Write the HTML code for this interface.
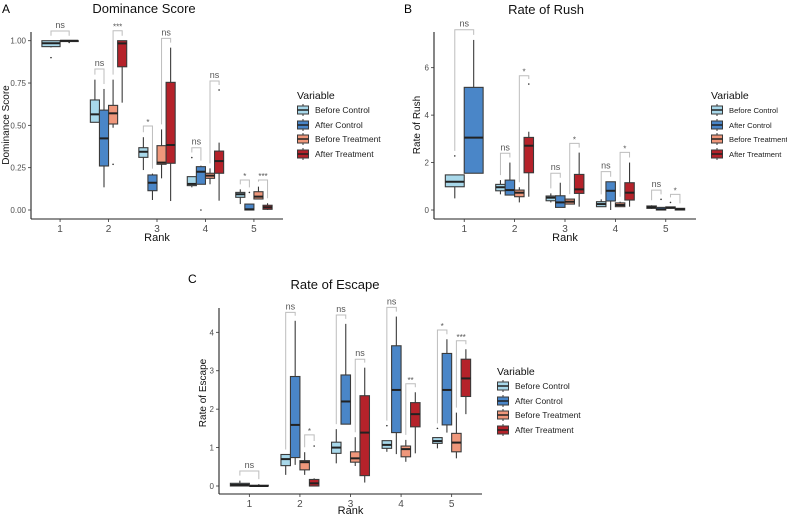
<!DOCTYPE html>
<html><head><meta charset="utf-8"><style>
html,body{margin:0;padding:0;background:#fff;}
svg{display:block;font-family:"Liberation Sans",Arial,sans-serif;}
</style></head><body>
<svg id="fig" width="787" height="516" viewBox="0 0 787 516"></svg>
<script>
// ---------- data ----------
const groupNames = ['Before Control','After Control','Before Treatment','After Treatment'];
const groupColors = ['#a8d8ea','#4a86c8','#ef977b','#b5222a'];
const ranks = [1,2,3,4,5];

// Dominance Score: [lowWhisker, q1, median, q3, highWhisker] per rank
const domBeforeControl = [[0.96,0.965,0.985,1.0,1.0],[0.518,0.518,0.565,0.65,0.77],[0.236,0.311,0.344,0.368,0.43],[0.134,0.144,0.154,0.197,0.197],[0.035,0.075,0.093,0.104,0.122]];
const domAfterControl = [[0.99,0.995,1.0,1.0,1.0],[0.134,0.26,0.423,0.59,0.715],[0.059,0.114,0.161,0.207,0.215],[0.152,0.152,0.226,0.256,0.262],[0,0,0.004,0.035,0.035]];
const domBeforeTreatment = [null,[0.486,0.508,0.571,0.618,0.77],[0.187,0.27,0.28,0.38,0.476],[0.152,0.187,0.203,0.217,0.246],[0.065,0.065,0.079,0.108,0.138]];
const domAfterTreatment = [null,[0.634,0.846,0.984,1.0,1.0],[0.053,0.276,0.384,0.754,0.959],[0.055,0.217,0.289,0.348,0.398],[0,0.004,0.016,0.028,0.04]];
const domOutliers = [[1,0,0.90],[1,1,0.99],[2,2,0.27],[4,0,0.31],[4,1,0.0],[4,3,0.709],[5,1,0.104]];
const domBrackets = [[1,0,1,1.057,'ns'],[2,0,1,0.833,'ns'],[2,2,3,1.059,'***'],[3,0,1,0.496,'*'],[3,2,3,1.014,'ns'],[4,0,1,0.368,'ns'],[4,2,3,0.762,'ns'],[5,0,1,0.177,'*'],[5,2,3,0.177,'***']];
const domTicks = [0,0.25,0.5,0.75,1.0];
const domTickLabels = ['0.00','0.25','0.50','0.75','1.00'];

// Rate of Rush
const rushBeforeControl = [[0.49,0.98,1.19,1.48,1.48],[0.66,0.81,0.96,1.08,1.26],[0.32,0.39,0.52,0.59,0.70],[0.14,0.14,0.25,0.35,0.45],[0.05,0.07,0.11,0.17,0.2]];
const rushAfterControl = [[1.55,1.55,3.05,5.17,7.17],[0.63,0.63,0.84,1.26,2.0],[0.11,0.11,0.32,0.6,1.15],[0,0.38,0.81,1.19,1.19],[0,0,0.03,0.11,0.11]];
const rushBeforeTreatment = [null,[0.32,0.56,0.73,0.84,0.96],[0.25,0.25,0.35,0.46,0.46],[0.14,0.14,0.21,0.30,0.35],[0.07,0.07,0.1,0.13,0.13]];
const rushAfterTreatment = [null,[0.56,1.57,2.71,3.06,3.3],[0.14,0.70,0.87,1.5,2.42],[0.14,0.42,0.73,1.15,2.0],[0,0,0.03,0.07,0.07]];
const rushOutliers = [[1,0,2.28],[2,3,5.31],[5,1,0.45],[5,2,0.32]];
const rushBrackets = [[1,0,1,7.6,'ns'],[2,0,1,2.39,'ns'],[2,2,3,5.66,'*'],[3,0,1,1.55,'ns'],[3,2,3,2.81,'*'],[4,0,1,1.62,'ns'],[4,2,3,2.43,'*'],[5,0,1,0.84,'ns'],[5,2,3,0.66,'*']];
const rushTicks = [0,2,4,6];
const rushTickLabels = ['0','2','4','6'];

// Rate of Escape
const escBeforeControl = [[0,0,0.03,0.07,0.14],[0.29,0.53,0.70,0.82,0.82],[0.59,0.85,1.0,1.14,1.48],[0.89,0.98,1.07,1.18,1.18],[0.98,1.11,1.17,1.26,1.26]];
const escAfterControl = [[0,0,0.0,0.02,0.05],[0.55,0.74,1.59,2.85,4.3],[1.61,1.61,2.2,2.89,4.22],[0.83,1.39,2.5,3.65,4.41],[1.39,1.59,2.5,3.45,3.82]];
const escBeforeTreatment = [null,[0.29,0.42,0.62,0.66,0.88],[0.52,0.62,0.72,0.89,1.27],[0.63,0.76,0.96,1.04,1.2],[0.72,0.89,1.13,1.37,1.91]];
const escAfterTreatment = [null,[0,0,0.07,0.17,0.2],[0.09,0.27,1.39,2.35,3.08],[0.85,1.54,1.87,2.17,2.44],[1.87,2.33,2.8,3.3,3.56]];
const escOutliers = [[2,3,1.04],[4,0,1.57],[5,0,1.5]];
const escBrackets = [[1,0,1,0.39,'ns'],[2,0,1,4.52,'ns'],[2,2,3,1.33,'*'],[3,0,1,4.45,'ns'],[3,2,3,3.3,'ns'],[4,0,1,4.65,'ns'],[4,2,3,2.66,'**'],[5,0,1,4.06,'*'],[5,2,3,3.78,'***']];
const escTicks = [0,1,2,3,4];
const escTickLabels = ['0','1','2','3','4'];

// ---------- drawing ----------
const NS='http://www.w3.org/2000/svg';
const svg=document.getElementById('fig');
function mk(tag,attrs,parent){const e=document.createElementNS(NS,tag);for(const k in attrs)e.setAttribute(k,attrs[k]);(parent||svg).appendChild(e);return e;}
function txt(s,attrs,parent){const e=mk('text',attrs,parent);e.textContent=s;return e;}

const panels=[
 {key:'dominance',letter:'A',lx:2,ly:13,title:'Dominance Score',tx:144,ty:13,ytitle:'Dominance Score',ytx:9,yty:125,
  xl:31,xr:283,axisY:219,y0:210,ppu:169.3,top:32,rankY:241,
  series:[domBeforeControl,domAfterControl,domBeforeTreatment,domAfterTreatment],out:domOutliers,br:domBrackets,ticks:domTicks,tl:domTickLabels,
  legX:297,legTitleY:99,legY:[110,125,139,154],legFont:8.5},
 {key:'rush',letter:'B',lx:404,ly:13,title:'Rate of Rush',tx:546,ty:14,ytitle:'Rate of Rush',ytx:420,yty:125,
  xl:434,xr:696,axisY:219,y0:210,ppu:23.72,top:32,rankY:241,
  series:[rushBeforeControl,rushAfterControl,rushBeforeTreatment,rushAfterTreatment],out:rushOutliers,br:rushBrackets,ticks:rushTicks,tl:rushTickLabels,
  legX:711,legTitleY:99,legY:[110,125,139,154],legFont:7.6},
 {key:'escape',letter:'C',lx:188,ly:283,title:'Rate of Escape',tx:335,ty:289,ytitle:'Rate of Escape',ytx:206,yty:393,
  xl:219,xr:482,axisY:494,y0:486,ppu:38.42,top:308,rankY:514,
  series:[escBeforeControl,escAfterControl,escBeforeTreatment,escAfterTreatment],out:escOutliers,br:escBrackets,ticks:escTicks,tl:escTickLabels,
  legX:497,legTitleY:375,legY:[386,401,415,430],legFont:8.5}
];

panels.forEach(p=>{
  const g=mk('g',{});
  
  
  const unit=(p.xr-p.xl)/5.2;
  const X=pos=>p.xl+(pos-0.4)*unit;
  const Y=v=>p.y0-v*p.ppu;

  const lt=txt(p.letter,{x:p.lx,y:p.ly,'font-size':12,fill:'#000'},g);
  
  
  const tt=txt(p.title,{x:p.tx,y:p.ty,'font-size':13,'text-anchor':'middle',fill:'#111'},g);
  
  

  const ya=mk('line',{x1:p.xl,y1:p.top,x2:p.xl,y2:p.axisY,stroke:'#222','stroke-width':1.1},g);
  
  
  const xa=mk('line',{x1:p.xl,y1:p.axisY,x2:p.xr,y2:p.axisY,stroke:'#222','stroke-width':1.1},g);
  
  
  p.ticks.forEach((t,i)=>{
    mk('line',{x1:p.xl-3,x2:p.xl,y1:Y(t),y2:Y(t),stroke:'#333','stroke-width':0.8},g);
    const l=txt(p.tl[i],{x:p.xl-5,y:Y(t)+3,'font-size':8,'text-anchor':'end',fill:'#4d4d4d'},g);
    
    
  });
  ranks.forEach(r=>{
    mk('line',{x1:X(r),x2:X(r),y1:p.axisY,y2:p.axisY+3,stroke:'#333','stroke-width':0.8},g);
    const l=txt(String(r),{x:X(r),y:p.axisY+13,'font-size':10,'text-anchor':'middle',fill:'#4d4d4d'},g);
    
    
  });
  const xt=txt('Rank',{x:(p.xl+p.xr)/2,y:p.rankY,'font-size':11,'text-anchor':'middle',fill:'#111'},g);
  
  
  const yt=txt(p.ytitle,{x:0,y:0,'font-size':10,'text-anchor':'middle',fill:'#111',transform:`translate(${p.ytx},${p.yty}) rotate(-90)`},g);
  
  

  const boxInfo={};
  ranks.forEach((r,ri)=>{
    const present=[];p.series.forEach((s,gi)=>{if(s[ri])present.push(gi);});
    const k=present.length,w=0.75/k;
    present.forEach((gi,j)=>{boxInfo[r+'_'+gi]={c:r-0.375+(j+0.5)*w,w:w};});
  });

  p.br.forEach(b=>{
    const [r,g1,g2,yv,lab]=b;
    const a=boxInfo[r+'_'+g1],c=boxInfo[r+'_'+g2];
    const ri=r-1;
    const maxOf=gi=>{let m=p.series[gi][ri][4];p.out.forEach(o=>{if(o[0]===r&&o[1]===gi&&o[2]>m)m=o[2];});return m;};
    const xa1=X(a.c),xa2=X(c.c),yy=Y(yv);
    const y1=Math.max(yy,Y(maxOf(g1))-5),y2=Math.max(yy,Y(maxOf(g2))-5);
    const pth=mk('path',{d:`M${xa1},${y1}V${yy}H${xa2}V${y2}`,fill:'none',stroke:'#bdbdbd','stroke-width':1},g);
    
    
    const lt2=txt(lab,{x:(xa1+xa2)/2,y:lab==='ns'?yy-3:yy-1,'font-size':lab==='ns'?9:8,'text-anchor':'middle',fill:'#555'},g);
    
    
  });

  p.series.forEach((s,gi)=>{
    s.forEach((d,ri)=>{
      if(!d)return;
      const r=ranks[ri];const bi=boxInfo[r+'_'+gi];
      const cx=X(bi.c),hw=bi.w*unit/2;
      const bg=mk('g',{},g);
      
      
      mk('line',{x1:cx,x2:cx,y1:Y(d[4]),y2:Y(d[3]),stroke:'#3a3a3a','stroke-width':1.1},bg);
      mk('line',{x1:cx,x2:cx,y1:Y(d[1]),y2:Y(d[0]),stroke:'#3a3a3a','stroke-width':1.1},bg);
      mk('rect',{x:cx-hw,y:Y(d[3]),width:2*hw,height:Math.max(0.5,Y(d[1])-Y(d[3])),fill:groupColors[gi],stroke:'#3a3a3a','stroke-width':1.1},bg);
      mk('line',{x1:cx-hw,x2:cx+hw,y1:Y(d[2]),y2:Y(d[2]),stroke:'#222','stroke-width':2},bg);
    });
  });
  p.out.forEach(o=>{
    const bi=boxInfo[o[0]+'_'+o[1]];
    const c=mk('circle',{cx:X(bi.c),cy:Y(o[2]),r:0.8,fill:'#333'},g);
    
    
  });

  const lg=mk('g',{},g);
  
  
  txt('Variable',{x:p.legX,y:p.legTitleY,'font-size':10.5,fill:'#111'},lg);
  groupNames.forEach((n,i)=>{
    const e=mk('g',{},lg);
    
    
    const kx=p.legX+6,ky=p.legY[i];
    mk('line',{x1:kx,x2:kx,y1:ky-6,y2:ky+6,stroke:'#3a3a3a','stroke-width':1},e);
    mk('rect',{x:kx-5.5,y:ky-4,width:11,height:8,fill:groupColors[i],stroke:'#3a3a3a','stroke-width':1},e);
    mk('line',{x1:kx-5.5,x2:kx+5.5,y1:ky,y2:ky,stroke:'#222','stroke-width':1.5},e);
    txt(n,{x:kx+12,y:ky+3,'font-size':p.legFont,fill:'#222'},e);
  });
});
</script>
</body></html>
